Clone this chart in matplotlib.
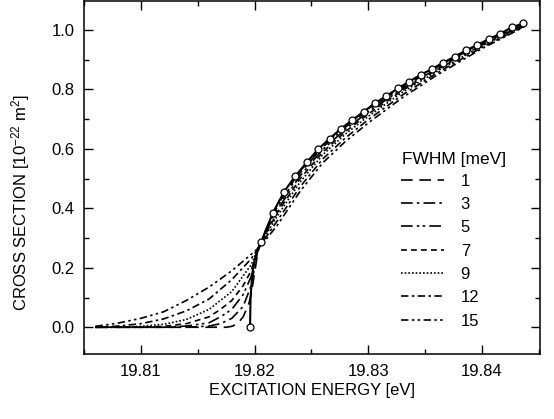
import matplotlib
matplotlib.use("Agg")
import matplotlib.pyplot as plt
from matplotlib.ticker import MultipleLocator, FormatStrFormatter

plt.rcParams['font.family'] = ['Liberation Sans', 'DejaVu Sans']
plt.rcParams['mathtext.default'] = 'regular'

# measured points (open circles)
e_meas = [19.8196, 19.8206, 19.8216, 19.8226, 19.8236, 19.8246, 19.8256, 19.8266,
          19.8276, 19.8286, 19.8296, 19.8306, 19.8316, 19.8326, 19.8336, 19.8346,
          19.8356, 19.8366, 19.8376, 19.8386, 19.8396, 19.8406, 19.8416, 19.8426,
          19.8436]
s_meas = [0.0, 0.288, 0.384, 0.456, 0.509, 0.555, 0.599, 0.634, 0.668, 0.697,
          0.725, 0.754, 0.778, 0.803, 0.826, 0.849, 0.868, 0.890, 0.910, 0.931,
          0.950, 0.969, 0.987, 1.008, 1.022]

# steep part of the unconvolved curve just above threshold
e_thr = [19.8196, 19.81965, 19.8198, 19.8200, 19.8203]
s_thr = [0.0, 0.10, 0.18, 0.225, 0.262]

# convolved curves, energy above threshold shared
e_up = [19.8203, 19.821, 19.822, 19.824, 19.826, 19.828, 19.830, 19.833, 19.836, 19.840, 19.8437]

fwhm = ['1', '3', '5', '7', '9', '12', '15']

e_low = {
    '1':  [19.806, 19.8175, 19.818, 19.8185, 19.819, 19.8195, 19.8197],
    '3':  [19.806, 19.814, 19.816, 19.817, 19.818, 19.819, 19.8197],
    '5':  [19.806, 19.812, 19.814, 19.816, 19.817, 19.818, 19.819, 19.8197],
    '7':  [19.806, 19.810, 19.812, 19.814, 19.816, 19.817, 19.818, 19.819, 19.8197],
    '9':  [19.806, 19.808, 19.810, 19.812, 19.814, 19.816, 19.818, 19.8197],
    '12': [19.806, 19.808, 19.810, 19.812, 19.814, 19.816, 19.818, 19.8197],
    '15': [19.806, 19.808, 19.810, 19.812, 19.814, 19.816, 19.818, 19.8197],
}
s_low = {
    '1':  [0.0, 0.0, 0.003, 0.012, 0.035, 0.08, 0.11],
    '3':  [0.0, 0.0, 0.004, 0.012, 0.03, 0.07, 0.14],
    '5':  [0.0, 0.0, 0.004, 0.015, 0.035, 0.06, 0.11, 0.17],
    '7':  [0.0, 0.0, 0.003, 0.012, 0.035, 0.06, 0.09, 0.14, 0.19],
    '9':  [0.0, 0.0, 0.003, 0.01, 0.026, 0.06, 0.12, 0.21],
    '12': [0.0, 0.004, 0.012, 0.028, 0.055, 0.095, 0.16, 0.23],
    '15': [0.003, 0.014, 0.03, 0.052, 0.09, 0.135, 0.19, 0.245],
}
s_up = {
    '1':  [0.255, 0.329, 0.411, 0.525, 0.611, 0.678, 0.735, 0.811, 0.876, 0.956, 1.020],
    '3':  [0.262, 0.326, 0.405, 0.519, 0.606, 0.673, 0.731, 0.807, 0.873, 0.955, 1.019],
    '5':  [0.265, 0.321, 0.395, 0.509, 0.598, 0.666, 0.724, 0.802, 0.869, 0.952, 1.017],
    '7':  [0.265, 0.316, 0.385, 0.499, 0.589, 0.658, 0.717, 0.796, 0.865, 0.949, 1.016],
    '9':  [0.265, 0.311, 0.374, 0.488, 0.580, 0.650, 0.709, 0.790, 0.860, 0.946, 1.014],
    '12': [0.265, 0.303, 0.358, 0.472, 0.566, 0.637, 0.698, 0.781, 0.854, 0.941, 1.012],
    '15': [0.265, 0.295, 0.343, 0.457, 0.553, 0.625, 0.687, 0.772, 0.847, 0.937, 1.010],
}

styles = {
    '1':  (0, (7, 4)),
    '3':  (0, (7, 2.5, 1.5, 2.5)),
    '5':  (0, (7, 2.5, 1.5, 2, 1.5, 2.5)),
    '7':  (0, (3.5, 2.5)),
    '9':  (0, (1, 1.2)),
    '12': (0, (4.5, 2, 1.5, 2)),
    '15': (0, (4.5, 2, 1.5, 2, 1.5, 2)),
}

fig = plt.figure(figsize=(5.54, 4.19), dpi=100)
ax = fig.add_axes([0.1516, 0.1551, 0.8231, 0.8425])

for f in fwhm:
    ax.plot(e_low[f] + e_up, s_low[f] + s_up[f], color='black', lw=1.2,
            linestyle=styles[f], label=f)

ax.plot(e_thr + e_meas[1:], s_thr + s_meas[1:], color='black', lw=1.5, zorder=3)
ax.plot(e_meas, s_meas, 'o', ms=5, mfc='white', mec='black', mew=0.9, zorder=4)

ax.set_xlim(19.805, 19.8451)
ax.set_ylim(-0.09, 1.097)
ax.xaxis.set_major_locator(MultipleLocator(0.01))
ax.xaxis.set_minor_locator(MultipleLocator(0.005))
ax.yaxis.set_major_locator(MultipleLocator(0.2))
ax.yaxis.set_minor_locator(MultipleLocator(0.1))
ax.xaxis.set_major_formatter(FormatStrFormatter('%.2f'))
ax.yaxis.set_major_formatter(FormatStrFormatter('%.1f'))
ax.tick_params(which='both', direction='in', top=True, right=True, labelsize=12, width=1)
ax.tick_params(which='major', length=6.5, pad=7)
ax.tick_params(which='minor', length=3.6)
for sp in ax.spines.values():
    sp.set_linewidth(1.1)

ax.set_xlabel('EXCITATION ENERGY [eV]', fontsize=12, labelpad=3)
ax.set_ylabel('CROSS SECTION [10$^{-22}$ m$^{2}$]', fontsize=12)
ax.yaxis.set_label_coords(-0.115, 0.43)

# legend title as plain text, entries below it
ax.text(0.697, 0.55, 'FWHM [meV]', transform=ax.transAxes, fontsize=12.5,
        ha='left', va='center')
ax.legend(frameon=False, fontsize=12, loc='upper left', bbox_to_anchor=(0.68, 0.53),
          handlelength=2.6, handletextpad=1.0, labelspacing=0.5, borderaxespad=0)

fig.savefig('out.png', dpi=100)
